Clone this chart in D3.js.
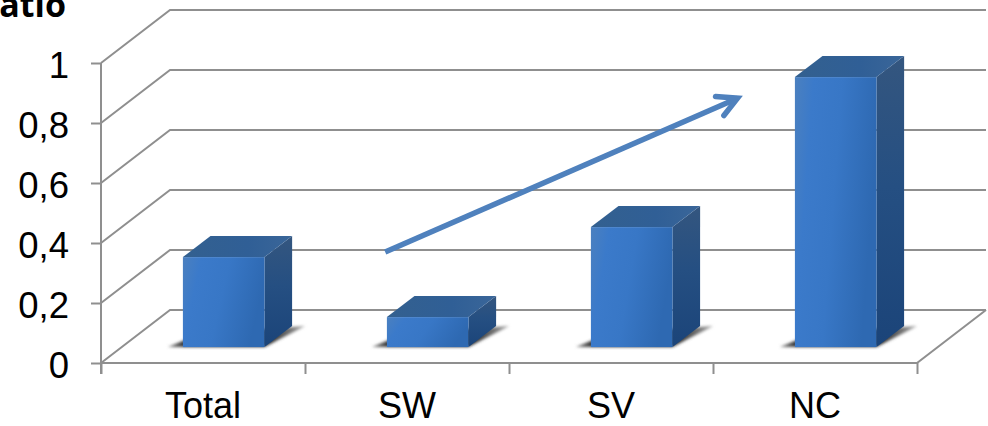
<!DOCTYPE html>
<html>
<head>
<meta charset="utf-8">
<script src="https://cdn.jsdelivr.net/npm/d3@7"></script>
<style>
  html, body { margin: 0; padding: 0; background: #fff; overflow: hidden; }
  svg { display: block; }
</style>
</head>
<body>
<script>
// Category labels and ratio values
const categories = ["Total", "SW", "SV", "NC"];
const ratios = [0.3, 0.1, 0.4, 0.9];
const yTicks = [0, 0.2, 0.4, 0.6, 0.8, 1];
const yTickLabels = ["0", "0,2", "0,4", "0,6", "0,8", "1"];
const axisTitle = "Ratio";
// Trend arrow, in [category position, ratio] on the front plane
const trendStart = [1.393, 0.37];
const trendEnd = [3.135, 0.887];

const width = 988, height = 426;
const depthX = 69, depthY = -53;        // offset of the back wall from the front plane
const barNear = 0.3, barFar = 0.7;      // bar extent along the depth axis
const gridColor = "#8f8f8f";
const labelFont = "'Liberation Sans', Arial, sans-serif";

const x = d3.scaleBand().domain(categories).range([101, 917]);
const y = d3.scaleLinear().domain([0, 1]).range([363, 63]);
const edge = d3.scaleLinear().domain([0, categories.length]).range([101, 917]);

const svg = d3.select("body").append("svg")
  .attr("width", width).attr("height", height)
  .style("font-family", labelFont);

const defs = svg.append("defs");

function gradient(id, x1, y1, x2, y2, stops) {
  const g = defs.append("linearGradient").attr("id", id)
    .attr("x1", x1).attr("y1", y1).attr("x2", x2).attr("y2", y2);
  stops.forEach(([o, c]) => g.append("stop").attr("offset", o).attr("stop-color", c));
}
gradient("faceFill", 0, 0, 1, 0.25, [[0, "#4b80bf"], [0.22, "#3b7aca"], [0.55, "#3877c6"], [1, "#2e69b2"]]);
gradient("sideFill", 0, 0, 0, 1, [[0, "#34567f"], [0.45, "#254f82"], [1, "#1b4479"]]);
gradient("topFill", 0, 0, 1, 0, [[0, "#33608f"], [0.6, "#305f96"], [1, "#3a6699"]]);
gradient("shadowFill", 0, 0, 1, 0, [[0, "#8a8a8a"], [0.12, "#333333"], [0.75, "#333333"], [1, "#a5a5a5"]]);
defs.append("filter").attr("id", "soft")
  .attr("x", "-20%").attr("y", "-30%").attr("width", "140%").attr("height", "160%")
  .append("feGaussianBlur").attr("stdDeviation", 1.4);

// Point in the 3D box: horizontal pixel, ratio value, depth 0..1
const project = (px, v, d) => [px + depthX * d, y(v) + depthY * d];
const poly = pts => pts.map(p => p.join(",")).join(" ");

const grid = svg.append("g").attr("fill", "none")
  .attr("stroke", gridColor).attr("stroke-width", 2);

// Side wall and back wall gridlines
grid.selectAll("polyline.wall").data(yTicks).join("polyline")
  .attr("class", "wall")
  .attr("points", t => poly([project(101, t, 0), project(101, t, 1), project(917, t, 1)]));

// Floor edges
grid.append("polyline")
  .attr("points", poly([project(101, 0, 0), project(917, 0, 0), project(917, 0, 1)]));

// Value axis
const yAxis = svg.append("g").attr("transform", "translate(101,0)")
  .call(d3.axisLeft(y).tickValues(yTicks).tickSize(10).tickFormat((d, i) => yTickLabels[i]));
yAxis.selectAll("path").remove();
yAxis.append("line").attr("y1", y(1)).attr("y2", y(0) + 11)
  .attr("stroke", gridColor).attr("stroke-width", 2);
yAxis.selectAll(".tick line").attr("stroke", gridColor).attr("stroke-width", 2);
yAxis.selectAll(".tick text")
  .attr("x", -32).attr("dy", "0.4em")
  .attr("fill", "#000").style("font-size", "36.5px").style("font-family", labelFont);

// Category axis: tick marks on the band edges, labels at the band centres
const tickAxis = svg.append("g").attr("transform", `translate(0,${y(0)})`)
  .call(d3.axisBottom(edge).tickValues(d3.range(categories.length + 1)).tickSize(11).tickFormat(""));
tickAxis.selectAll("path").remove();
tickAxis.selectAll(".tick line").attr("stroke", gridColor).attr("stroke-width", 2);

const labelAxis = svg.append("g").attr("transform", `translate(0,${y(0)})`)
  .call(d3.axisBottom(x).tickSize(0).tickPadding(29.5));
labelAxis.selectAll("path").remove();
labelAxis.selectAll(".tick text")
  .attr("fill", "#000").style("font-size", "36px").style("font-family", labelFont);

// Bars
const bars = svg.append("g").selectAll("g").data(categories.map((c, i) => ({ c, v: ratios[i] }))).join("g");
const barInset = 0.3;
const left = d => x(d.c) + x.bandwidth() * barInset;
const right = d => left(d) + x.bandwidth() * (1 - 2 * barInset);

// Soft shadow cast on the floor
bars.append("polygon")
  .attr("fill", "url(#shadowFill)").attr("filter", "url(#soft)")
  .attr("points", d => poly([
    [left(d) + depthX * barNear - 15, y(0) + depthY * barNear],
    project(left(d), 0, 0.55),
    [right(d) + depthX * barFar + 13, y(0) + depthY * barFar],
    project(right(d), 0, barNear)
  ]));

// Side face
bars.append("polygon").attr("fill", "url(#sideFill)")
  .attr("points", d => poly([
    project(right(d), d.v, barNear), project(right(d), d.v, barFar),
    project(right(d), 0, barFar), project(right(d), 0, barNear)
  ]));

// Top face
bars.append("polygon").attr("fill", "url(#topFill)")
  .attr("points", d => poly([
    project(left(d), d.v, barNear), project(left(d), d.v, barFar),
    project(right(d), d.v, barFar), project(right(d), d.v, barNear)
  ]));

// Front face
bars.append("rect").attr("fill", "url(#faceFill)")
  .attr("x", d => project(left(d), 0, barNear)[0])
  .attr("y", d => project(left(d), d.v, barNear)[1])
  .attr("width", d => right(d) - left(d))
  .attr("height", d => y(0) - y(d.v));

// Trend arrow across the categories
const p0 = [edge(trendStart[0]), y(trendStart[1])];
const p1 = [edge(trendEnd[0]), y(trendEnd[1])];
const angle = Math.atan2(p1[1] - p0[1], p1[0] - p0[0]);
const barb = (a, len) => [p1[0] - len * Math.cos(angle + a), p1[1] - len * Math.sin(angle + a)];
const arrow = svg.append("g").attr("fill", "none").attr("stroke", "#4f81bd").attr("stroke-width", 5.5);
arrow.append("line").attr("x1", p0[0]).attr("y1", p0[1]).attr("x2", p1[0] - 3).attr("y2", p1[1] + 1.3);
arrow.append("polyline")
  .attr("stroke-linecap", "round").attr("stroke-linejoin", "miter")
  .attr("points", poly([barb(0.43, 25), [p1[0] - 3, p1[1] + 1.3], barb(-0.43, 25)]));

// Axis title, running off the left edge of the page
svg.append("text").text(axisTitle)
  .attr("x", 66).attr("y", 17).attr("text-anchor", "end")
  .style("font-family", "'Open Sans', sans-serif")
  .style("font-weight", 700).style("font-size", "34px").attr("fill", "#000");
</script>
</body>
</html>
